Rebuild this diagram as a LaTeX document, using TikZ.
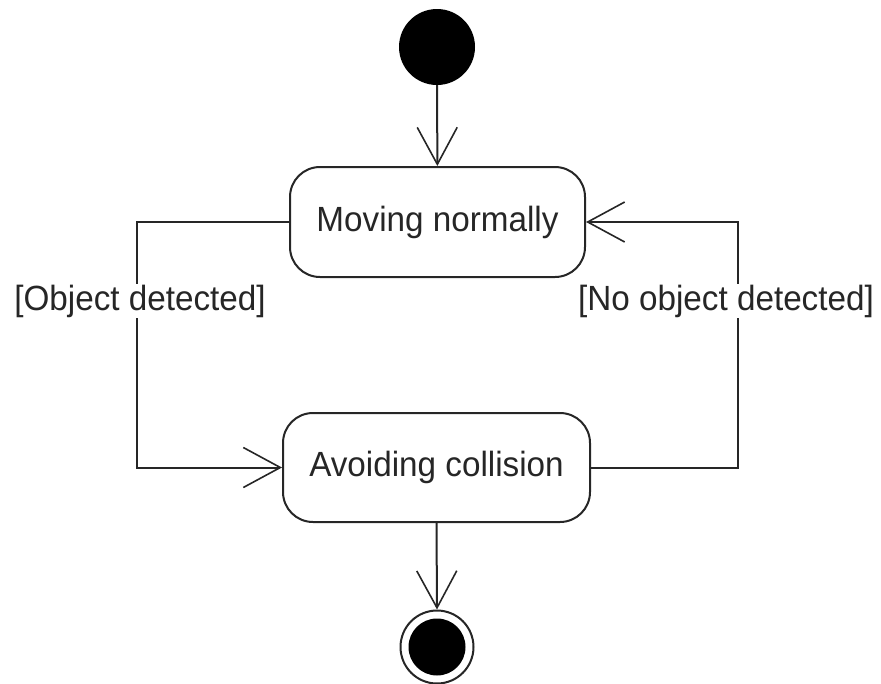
\documentclass[tikz,border=0pt]{standalone}
\usepackage{fontspec}
\setmainfont{Liberation Sans}[FakeStretch=0.95]
\usetikzlibrary{arrows.meta}
\begin{document}
\begin{tikzpicture}[x=1pt,y=-1pt,
  statebox/.style={draw=black!85, line width=2pt, rounded corners=30pt, inner sep=0pt,
    font=\fontsize{35}{42}\selectfont, text=black!85},
  tr/.style={draw=black!85, line width=2pt, -{Straight Barb[length=37pt,width=40pt,line width=1.6pt]}},
  guard/.style={fill=white, inner sep=1pt, font=\fontsize{35}{42}\selectfont, text=black!85}]
\useasboundingbox (0,0) rectangle (881,683);
\node[circle, fill=black, minimum size=76pt, inner sep=0pt] (init) at (437,47) {};
\node[statebox, minimum width=295pt, minimum height=110pt] (mn) at (437.5,222) {Moving normally};
\node[statebox, minimum width=307pt, minimum height=109pt] (ac) at (436.5,467.5) {Avoiding collision};
\node[circle, draw=black!85, line width=2pt, minimum size=73pt, inner sep=0pt] (fin) at (437,647) {};
\node[circle, fill=black, minimum size=57pt, inner sep=0pt] (finin) at (fin) {};
\coordinate (lc) at (137,222);
\coordinate (rc) at (738,467.5);
\draw[tr] (init) -- (mn);
\draw[tr] (mn.west) -- (lc) |- (ac.west);
\draw[tr] (ac.east) -- (rc) |- (mn.east);
\draw[tr] (ac.south) -- (fin.north);
\node[guard] (g1) at (140,301) {[Object detected]};
\node[guard] (g2) at (726,301) {[No object detected]};
\end{tikzpicture}
\end{document}
